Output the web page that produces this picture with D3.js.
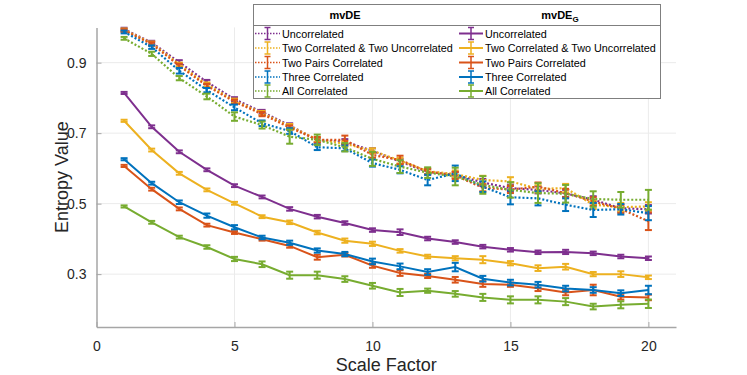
<!DOCTYPE html>
<html>
<head>
<meta charset="utf-8">
<script src="https://cdn.jsdelivr.net/npm/d3@7"></script>
<style>
  body { margin: 0; background: #fff; }
  svg { font-family: "Liberation Sans", Arial, Helvetica, sans-serif; }
</style>
</head>
<body>
<div id="chart"></div>
<script>
// scale factors 1..20
var scales = d3.range(1, 21)

var seriesNames = ["Uncorrelated", "Two Correlated & Two Uncorrelated", "Two Pairs Correlated", "Three Correlated", "All Correlated"]
var colors = ["#7E2F8E", "#EDB120", "#D95319", "#0072BD", "#77AC30"]

// mvDE (dotted)
var mvdeUncorr = [0.995, 0.957, 0.901, 0.845, 0.796, 0.760, 0.722, 0.680, 0.676, 0.650, 0.619, 0.590, 0.582, 0.560, 0.544, 0.539, 0.529, 0.511, 0.487, 0.484]
var mvdeTwoTwo = [0.993, 0.955, 0.895, 0.838, 0.792, 0.757, 0.720, 0.682, 0.670, 0.650, 0.622, 0.592, 0.584, 0.567, 0.563, 0.542, 0.544, 0.497, 0.490, 0.492]
var mvdePairs = [0.991, 0.953, 0.891, 0.834, 0.789, 0.754, 0.716, 0.681, 0.681, 0.638, 0.624, 0.591, 0.580, 0.545, 0.540, 0.548, 0.530, 0.506, 0.485, 0.450]
var mvdeThree = [0.987, 0.944, 0.877, 0.822, 0.773, 0.728, 0.706, 0.660, 0.657, 0.615, 0.596, 0.567, 0.586, 0.548, 0.518, 0.515, 0.497, 0.482, 0.484, 0.473]
var mvdeAll = [0.969, 0.925, 0.856, 0.804, 0.747, 0.723, 0.690, 0.681, 0.660, 0.627, 0.605, 0.588, 0.577, 0.553, 0.539, 0.530, 0.528, 0.513, 0.511, 0.511]

var mvdeUncorrErr = [0.004, 0.005, 0.006, 0.006, 0.006, 0.006, 0.006, 0.006, 0.007, 0.007, 0.008, 0.008, 0.008, 0.010, 0.010, 0.010, 0.010, 0.010, 0.010, 0.012]
var mvdeTwoTwoErr = [0.004, 0.005, 0.005, 0.006, 0.006, 0.006, 0.006, 0.006, 0.007, 0.007, 0.008, 0.008, 0.010, 0.012, 0.012, 0.010, 0.012, 0.012, 0.012, 0.012]
var mvdePairsErr = [0.004, 0.005, 0.006, 0.006, 0.006, 0.006, 0.006, 0.008, 0.012, 0.008, 0.012, 0.008, 0.010, 0.010, 0.010, 0.012, 0.012, 0.012, 0.012, 0.025]
var mvdeThreeErr = [0.004, 0.005, 0.008, 0.006, 0.008, 0.008, 0.008, 0.008, 0.008, 0.010, 0.010, 0.015, 0.022, 0.015, 0.020, 0.020, 0.018, 0.020, 0.015, 0.020]
var mvdeAllErr = [0.004, 0.006, 0.006, 0.008, 0.012, 0.010, 0.020, 0.015, 0.012, 0.020, 0.018, 0.015, 0.025, 0.025, 0.022, 0.028, 0.025, 0.022, 0.022, 0.028]

// mvDE_G (solid)
var gUncorr = [0.814, 0.718, 0.647, 0.596, 0.551, 0.519, 0.485, 0.463, 0.445, 0.425, 0.419, 0.401, 0.391, 0.378, 0.369, 0.362, 0.363, 0.359, 0.350, 0.345]
var gTwoTwo = [0.735, 0.652, 0.586, 0.539, 0.501, 0.463, 0.447, 0.418, 0.395, 0.386, 0.366, 0.350, 0.345, 0.341, 0.331, 0.317, 0.321, 0.300, 0.300, 0.291]
var gPairs = [0.607, 0.541, 0.485, 0.439, 0.418, 0.399, 0.380, 0.348, 0.355, 0.324, 0.303, 0.295, 0.284, 0.272, 0.270, 0.260, 0.248, 0.255, 0.236, 0.234]
var gThree = [0.626, 0.558, 0.504, 0.466, 0.433, 0.404, 0.389, 0.367, 0.357, 0.336, 0.322, 0.306, 0.320, 0.287, 0.276, 0.270, 0.259, 0.255, 0.246, 0.255]
var gAll = [0.492, 0.447, 0.405, 0.377, 0.343, 0.328, 0.297, 0.297, 0.286, 0.267, 0.248, 0.253, 0.244, 0.234, 0.227, 0.227, 0.222, 0.208, 0.213, 0.216]

var gUncorrErr = [0.003, 0.004, 0.004, 0.004, 0.004, 0.004, 0.005, 0.005, 0.005, 0.005, 0.008, 0.005, 0.005, 0.005, 0.005, 0.005, 0.006, 0.005, 0.005, 0.005]
var gTwoTwoErr = [0.003, 0.004, 0.004, 0.004, 0.004, 0.004, 0.005, 0.005, 0.006, 0.006, 0.005, 0.005, 0.006, 0.010, 0.006, 0.008, 0.008, 0.006, 0.008, 0.005]
var gPairsErr = [0.003, 0.004, 0.004, 0.004, 0.004, 0.004, 0.005, 0.007, 0.005, 0.006, 0.008, 0.006, 0.008, 0.008, 0.006, 0.008, 0.008, 0.015, 0.008, 0.008]
var gThreeErr = [0.003, 0.004, 0.005, 0.006, 0.006, 0.005, 0.006, 0.006, 0.006, 0.008, 0.008, 0.008, 0.012, 0.008, 0.008, 0.008, 0.008, 0.008, 0.008, 0.012]
var gAllErr = [0.003, 0.004, 0.004, 0.005, 0.006, 0.008, 0.010, 0.010, 0.008, 0.008, 0.010, 0.006, 0.008, 0.010, 0.010, 0.010, 0.010, 0.008, 0.010, 0.012]

var xTicks = [0, 5, 10, 15, 20]
var yTicks = [0.3, 0.5, 0.7, 0.9]

var mvdeVals = [mvdeUncorr, mvdeTwoTwo, mvdePairs, mvdeThree, mvdeAll]
var mvdeErrs = [mvdeUncorrErr, mvdeTwoTwoErr, mvdePairsErr, mvdeThreeErr, mvdeAllErr]
var gVals = [gUncorr, gTwoTwo, gPairs, gThree, gAll]
var gErrs = [gUncorrErr, gTwoTwoErr, gPairsErr, gThreeErr, gAllErr]

var W = 747, H = 375
var margin = { left: 96.5, right: 71, top: 27.4, bottom: 48 }

var svg = d3.select("#chart").append("svg")
    .attr("width", W)
    .attr("height", H)

var x = d3.scaleLinear().domain([0, 21]).range([margin.left, W - margin.right])
var y = d3.scaleLinear().domain([0.15, 1.0]).range([H - margin.bottom, margin.top])

// grid
svg.append("g").selectAll("line")
    .data(xTicks.filter(function (d) { return d > 0 }))
    .enter().append("line")
    .attr("x1", function (d) { return x(d) }).attr("x2", function (d) { return x(d) })
    .attr("y1", y(0.15)).attr("y2", y(1.0))
    .attr("stroke", "#ebebeb").attr("stroke-width", 1)
svg.append("g").selectAll("line")
    .data(yTicks)
    .enter().append("line")
    .attr("x1", x(0)).attr("x2", x(21))
    .attr("y1", function (d) { return y(d) }).attr("y2", function (d) { return y(d) })
    .attr("stroke", "#ebebeb").attr("stroke-width", 1)

// axes
var xAxis = svg.append("g")
    .attr("transform", "translate(0," + y(0.15) + ")")
    .call(d3.axisBottom(x).tickValues(xTicks).tickSizeInner(-5).tickSizeOuter(0).tickPadding(14))
var yAxis = svg.append("g")
    .attr("transform", "translate(" + x(0) + ",0)")
    .call(d3.axisLeft(y).tickValues(yTicks).tickFormat(d3.format(".1f")).tickSizeInner(-5).tickSizeOuter(0).tickPadding(10))

svg.selectAll(".domain").attr("stroke", "#a6a6a6").attr("stroke-width", 1.5)
svg.selectAll(".tick line").attr("stroke", "#a6a6a6").attr("stroke-width", 1)
svg.selectAll(".tick text").attr("fill", "#262626").style("font-size", "14px")

svg.append("text")
    .attr("x", (x(0) + x(21)) / 2).attr("y", 371)
    .attr("text-anchor", "middle").attr("fill", "#262626")
    .style("font-size", "18px").text("Scale Factor")
svg.append("text")
    .attr("transform", "translate(68," + ((y(0.15) + y(1.0)) / 2) + ") rotate(-90)")
    .attr("text-anchor", "middle").attr("fill", "#262626")
    .style("font-size", "18px").text("Entropy Value")

var line = d3.line()
    .x(function (d) { return x(d.s) })
    .y(function (d) { return y(d.v) })

function drawSeries(vals, errs, color, dotted) {
    var pts = scales.map(function (s, i) { return { s: s, v: vals[i], e: errs[i] } })
    var g = svg.append("g")
    g.append("path")
        .datum(pts)
        .attr("d", line)
        .attr("fill", "none")
        .attr("stroke", color)
        .attr("stroke-width", dotted ? 2.2 : 2)
        .attr("stroke-dasharray", dotted ? "2,2" : null)
    var eb = g.selectAll(".eb").data(pts).enter().append("g")
    eb.append("line")
        .attr("x1", function (d) { return x(d.s) }).attr("x2", function (d) { return x(d.s) })
        .attr("y1", function (d) { return y(d.v - d.e) }).attr("y2", function (d) { return y(d.v + d.e) })
        .attr("stroke", color).attr("stroke-width", 2)
    eb.append("line")
        .attr("x1", function (d) { return x(d.s) - 3.5 }).attr("x2", function (d) { return x(d.s) + 3.5 })
        .attr("y1", function (d) { return y(d.v - d.e) }).attr("y2", function (d) { return y(d.v - d.e) })
        .attr("stroke", color).attr("stroke-width", 2)
    eb.append("line")
        .attr("x1", function (d) { return x(d.s) - 3.5 }).attr("x2", function (d) { return x(d.s) + 3.5 })
        .attr("y1", function (d) { return y(d.v + d.e) }).attr("y2", function (d) { return y(d.v + d.e) })
        .attr("stroke", color).attr("stroke-width", 2)
}

for (var i = 0; i < 5; i++) {
    drawSeries(gVals[i], gErrs[i], colors[i], false)
}
for (var i = 0; i < 5; i++) {
    drawSeries(mvdeVals[i], mvdeErrs[i], colors[i], true)
}

// legend
var leg = svg.append("g")
leg.append("rect")
    .attr("x", 253.5).attr("y", 4.5).attr("width", 407).attr("height", 94)
    .attr("fill", "#fff").attr("stroke", "#7f7f7f").attr("stroke-width", 1)
leg.append("line")
    .attr("x1", 253.5).attr("x2", 660.5).attr("y1", 25.5).attr("y2", 25.5)
    .attr("stroke", "#7f7f7f").attr("stroke-width", 1)
leg.append("text")
    .attr("x", 345).attr("y", 18.5).attr("text-anchor", "middle")
    .style("font-size", "11px").style("font-weight", "bold").attr("fill", "#000")
    .text("mvDE")
var hg = leg.append("text")
    .attr("x", 560).attr("y", 18.5).attr("text-anchor", "middle")
    .style("font-size", "11px").style("font-weight", "bold").attr("fill", "#000")
hg.append("tspan").text("mvDE")
hg.append("tspan").attr("dy", 3).style("font-size", "8px").text("G")

var rowY = [33.5, 48, 62.5, 77, 91]
var cols = [{ x0: 255, x1: 280, tx: 282, dotted: true }, { x0: 459, x1: 483, tx: 485, dotted: false }]
cols.forEach(function (c) {
    seriesNames.forEach(function (name, i) {
        var cy = rowY[i]
        var mx = (c.x0 + c.x1) / 2
        leg.append("line")
            .attr("x1", c.x0).attr("x2", c.x1).attr("y1", cy).attr("y2", cy)
            .attr("stroke", colors[i]).attr("stroke-width", c.dotted ? 1.5 : 2)
            .attr("stroke-dasharray", c.dotted ? "1.5,1.5" : null)
        leg.append("line")
            .attr("x1", mx).attr("x2", mx).attr("y1", cy - 6).attr("y2", cy + 6)
            .attr("stroke", colors[i]).attr("stroke-width", 1.5)
        leg.append("line")
            .attr("x1", mx - 3).attr("x2", mx + 3).attr("y1", cy - 6).attr("y2", cy - 6)
            .attr("stroke", colors[i]).attr("stroke-width", 1.5)
        leg.append("line")
            .attr("x1", mx - 3).attr("x2", mx + 3).attr("y1", cy + 6).attr("y2", cy + 6)
            .attr("stroke", colors[i]).attr("stroke-width", 1.5)
        leg.append("text")
            .attr("x", c.tx).attr("y", cy + 4)
            .style("font-size", "10.8px").attr("fill", "#000")
            .text(name)
    })
})
</script>
</body>
</html>
